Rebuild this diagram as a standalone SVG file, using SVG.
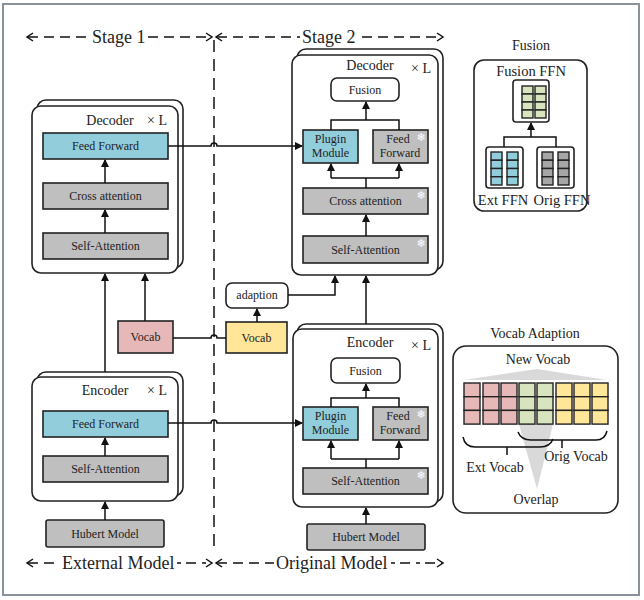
<svg xmlns="http://www.w3.org/2000/svg" width="644" height="600" viewBox="0 0 644 600">
<style>
text{font-family:"Liberation Serif","Times New Roman",serif;fill:#222}
.t12{font-size:12px;text-anchor:middle}
.t14{font-size:14px;text-anchor:middle}
.t18{font-size:18px}
.frame{fill:none;stroke:#222;stroke-width:1.5}
.card{fill:#fff;stroke:#222;stroke-width:1.6}
.blue{fill:#92cddc;stroke:#222;stroke-width:1.6}
.gray{fill:#bfbfbf;stroke:#222;stroke-width:1.6}
.pink{fill:#e6b8b7;stroke:#222;stroke-width:1.6}
.yel{fill:#ffe699;stroke:#222;stroke-width:1.6}
.grn{fill:#d7e4bd;stroke:#222;stroke-width:1.4}
.cb{fill:#92cddc;stroke:#222;stroke-width:1.4}
.cg{fill:#a6a6a6;stroke:#222;stroke-width:1.4}
.cp{fill:#e6b8b7;stroke:#222;stroke-width:1.4}
.cy{fill:#ffe699;stroke:#222;stroke-width:1.4}
.ln{fill:none;stroke:#111;stroke-width:1.5}
.ar{fill:none;stroke:#111;stroke-width:1.5;marker-end:url(#ah)}
.dash{fill:none;stroke:#111;stroke-width:1.5;stroke-dasharray:10 6}
.chev{fill:none;stroke:#111;stroke-width:1.5}
.snow{font-family:"DejaVu Sans",sans-serif;font-size:11px;fill:#fff;text-anchor:middle}
</style>
<defs>
<marker id="ah" markerWidth="8" markerHeight="8" refX="7" refY="4" orient="auto" markerUnits="userSpaceOnUse">
<path d="M0,0 L8,4 L0,8 Z" fill="#111"/>
</marker>
</defs>
<rect x="0" y="0" width="644" height="600" fill="#fff"/>
<rect x="3" y="4" width="636" height="591" fill="none" stroke="#8a919b" stroke-width="2"/>

<!-- header / footer -->
<g id="stage-header">
<path class="chev" d="M33,33 L27,37 L33,41"/>
<line class="dash" x1="28" y1="37" x2="90" y2="37"/>
<text class="t18" x="92" y="43">Stage 1</text>
<line class="dash" x1="148" y1="37" x2="211" y2="37"/>
<path class="chev" d="M206,33 L212,37 L206,41"/>
<path class="chev" d="M222,33 L216,37 L222,41"/>
<line class="dash" x1="217" y1="37" x2="300" y2="37"/>
<text class="t18" x="302" y="43">Stage 2</text>
<line class="dash" x1="362" y1="37" x2="442" y2="37"/>
<path class="chev" d="M437,33 L443,37 L437,41"/>
</g>
<g id="model-footer">
<path class="chev" d="M33,559 L27,563 L33,567"/>
<line class="dash" x1="28" y1="563" x2="58" y2="563"/>
<text class="t18" x="62" y="569">External Model</text>
<line class="dash" x1="177" y1="563" x2="211" y2="563" style="stroke-dasharray:4 5 10 6"/>
<path class="chev" d="M206,559 L212,563 L206,567"/>
<path class="chev" d="M222,559 L216,563 L222,567"/>
<line class="dash" x1="217" y1="563" x2="274" y2="563"/>
<text class="t18" x="276" y="569">Original Model</text>
<line class="dash" x1="391" y1="563" x2="442" y2="563" style="stroke-dasharray:4 5 10 6"/>
<path class="chev" d="M437,559 L443,563 L437,567"/>
</g>
<line x1="214" y1="40" x2="214" y2="553" stroke="#111" stroke-width="1.5" stroke-dasharray="12 7"/>

<!-- Stage 1 decoder -->
<g id="s1-decoder">
<rect class="card" x="37" y="100" width="146" height="168" rx="9"/>
<rect class="card" x="32" y="106" width="146" height="167" rx="9"/>
<text class="t14" x="110" y="125">Decoder</text>
<text class="t14" x="157" y="125">× L</text>
<g id="s1-dec-ff"><rect class="blue" x="43" y="133" width="125" height="26"/><text class="t12" x="105.5" y="150">Feed Forward</text></g>
<g id="s1-dec-ca"><rect class="gray" x="43" y="183" width="125" height="26"/><text class="t12" x="105.5" y="200">Cross attention</text></g>
<g id="s1-dec-sa"><rect class="gray" x="43" y="233" width="125" height="26"/><text class="t12" x="105.5" y="250">Self-Attention</text></g>
</g>

<!-- Stage 1 encoder -->
<g id="s1-encoder">
<rect class="card" x="37" y="372" width="146" height="124" rx="9"/>
<rect class="card" x="32" y="377" width="146" height="124" rx="9"/>
<text class="t14" x="105" y="395">Encoder</text>
<text class="t14" x="157" y="395">× L</text>
<g id="s1-enc-ff"><rect class="blue" x="43" y="411" width="125" height="26"/><text class="t12" x="105.5" y="428">Feed Forward</text></g>
<g id="s1-enc-sa"><rect class="gray" x="43" y="456" width="125" height="26"/><text class="t12" x="105.5" y="473">Self-Attention</text></g>
</g>
<g id="s1-hubert"><rect class="gray" x="46" y="520" width="118" height="27" rx="2"/><text class="t12" x="105" y="538">Hubert Model</text></g>

<g id="vocab-ext"><rect class="pink" x="118" y="321" width="55" height="32"/><text class="t12" x="145.5" y="341">Vocab</text></g>
<g id="vocab-orig"><rect class="yel" x="226" y="322" width="61" height="31"/><text class="t12" x="256.5" y="342">Vocab</text></g>
<g id="adaption"><rect class="card" x="226" y="283" width="62" height="25" rx="6"/><text class="t12" x="257" y="299">adaption</text></g>

<!-- Stage 2 decoder -->
<g id="s2-decoder">
<rect class="card" x="297" y="49" width="146" height="221" rx="9"/>
<rect class="card" x="292" y="55" width="146" height="220" rx="9"/>
<text class="t14" x="370" y="70">Decoder</text>
<text class="t14" x="421" y="73">× L</text>
<g id="s2-dec-fusion"><rect class="card" x="331" y="78" width="68" height="23" rx="6"/><text class="t12" x="365" y="94">Fusion</text></g>
<g id="s2-dec-plugin"><rect class="blue" x="303" y="130" width="55" height="33"/><text class="t12" x="330.5" y="143">Plugin</text><text class="t12" x="330.5" y="157">Module</text></g>
<g id="s2-dec-ff"><rect class="gray" x="373" y="130" width="55" height="33"/><text class="t12" x="398" y="143">Feed</text><text class="t12" x="400" y="157">Forward</text><text class="snow" x="421" y="141">❄</text></g>
<g id="s2-dec-ca"><rect class="gray" x="303" y="188" width="125" height="26"/><text class="t12" x="365.5" y="205">Cross attention</text><text class="snow" x="421" y="199">❄</text></g>
<g id="s2-dec-sa"><rect class="gray" x="303" y="236" width="125" height="27"/><text class="t12" x="365.5" y="254">Self-Attention</text><text class="snow" x="421" y="247">❄</text></g>
</g>

<!-- Stage 2 encoder -->
<g id="s2-encoder">
<rect class="card" x="297" y="324" width="146" height="178" rx="9"/>
<rect class="card" x="293" y="329" width="145" height="178" rx="9"/>
<text class="t14" x="370" y="347">Encoder</text>
<text class="t14" x="421" y="350">× L</text>
<g id="s2-enc-fusion"><rect class="card" x="331" y="358" width="69" height="25" rx="6"/><text class="t12" x="365.5" y="375">Fusion</text></g>
<g id="s2-enc-plugin"><rect class="blue" x="303" y="407" width="55" height="33"/><text class="t12" x="330.5" y="420">Plugin</text><text class="t12" x="330.5" y="434">Module</text></g>
<g id="s2-enc-ff"><rect class="gray" x="373" y="407" width="55" height="33"/><text class="t12" x="398" y="420">Feed</text><text class="t12" x="400" y="434">Forward</text><text class="snow" x="421" y="418">❄</text></g>
<g id="s2-enc-sa"><rect class="gray" x="303" y="468" width="125" height="26"/><text class="t12" x="365.5" y="485">Self-Attention</text><text class="snow" x="421" y="479">❄</text></g>
</g>
<g id="s2-hubert"><rect class="gray" x="307" y="524" width="118" height="26" rx="2"/><text class="t12" x="366" y="541">Hubert Model</text></g>

<!-- Fusion panel -->
<g id="fusion-panel">
<text class="t14" x="531" y="50">Fusion</text>
<rect class="card" x="474" y="60" width="113" height="151" rx="10"/>
<text x="531" y="76" style="font-size:14.5px;text-anchor:middle">Fusion FFN</text>
<rect class="card" x="513" y="80" width="36" height="42" rx="3"/>
<g class="grn-cells">
<rect class="grn" x="522" y="86" width="11" height="8"/><rect class="grn" x="522" y="94" width="11" height="8"/><rect class="grn" x="522" y="102" width="11" height="8"/><rect class="grn" x="522" y="110" width="11" height="8"/>
<rect class="grn" x="535" y="86" width="11" height="8"/><rect class="grn" x="535" y="94" width="11" height="8"/><rect class="grn" x="535" y="102" width="11" height="8"/><rect class="grn" x="535" y="110" width="11" height="8"/>
</g>
<rect class="card" x="486" y="147" width="37" height="41" rx="3"/>
<rect class="cb" x="491" y="152" width="11" height="8.25"/><rect class="cb" x="491" y="160.25" width="11" height="8.25"/><rect class="cb" x="491" y="168.5" width="11" height="8.25"/><rect class="cb" x="491" y="176.75" width="11" height="8.25"/>
<rect class="cb" x="507" y="152" width="11" height="8.25"/><rect class="cb" x="507" y="160.25" width="11" height="8.25"/><rect class="cb" x="507" y="168.5" width="11" height="8.25"/><rect class="cb" x="507" y="176.75" width="11" height="8.25"/>
<rect class="card" x="537" y="147" width="37" height="41" rx="3"/>
<rect class="cg" x="542" y="152" width="11" height="8.25"/><rect class="cg" x="542" y="160.25" width="11" height="8.25"/><rect class="cg" x="542" y="168.5" width="11" height="8.25"/><rect class="cg" x="542" y="176.75" width="11" height="8.25"/>
<rect class="cg" x="558" y="152" width="11" height="8.25"/><rect class="cg" x="558" y="160.25" width="11" height="8.25"/><rect class="cg" x="558" y="168.5" width="11" height="8.25"/><rect class="cg" x="558" y="176.75" width="11" height="8.25"/>
<path class="ln" d="M504,147 V137 H556 V147"/>
<path class="ar" d="M531,137 V123"/>
<text x="503" y="205" style="font-size:14.5px;text-anchor:middle">Ext FFN</text>
<text x="562" y="205" style="font-size:14.5px;text-anchor:middle">Orig FFN</text>
</g>

<!-- Vocab Adaption panel -->
<g id="vocab-panel">
<text class="t14" x="535" y="338">Vocab Adaption</text>
<rect class="card" x="453" y="346" width="165" height="167" rx="13"/>
<text class="t14" x="538" y="364">New Vocab</text>
<polygon points="537,369 607,380 464,380" fill="#d9d9d9"/>
<polygon points="519,424 553,424 537,489" fill="#d9d9d9"/>
<g>
<rect class="cp" x="464" y="383" width="16" height="13.7"/><rect class="cp" x="464" y="396.7" width="16" height="13.7"/><rect class="cp" x="464" y="410.4" width="16" height="13.7"/>
<rect class="cp" x="483" y="383" width="16" height="13.7"/><rect class="cp" x="483" y="396.7" width="16" height="13.7"/><rect class="cp" x="483" y="410.4" width="16" height="13.7"/>
<rect class="cp" x="501" y="383" width="16" height="13.7"/><rect class="cp" x="501" y="396.7" width="16" height="13.7"/><rect class="cp" x="501" y="410.4" width="16" height="13.7"/>
<rect class="grn" x="519" y="383" width="16" height="13.7"/><rect class="grn" x="519" y="396.7" width="16" height="13.7"/><rect class="grn" x="519" y="410.4" width="16" height="13.7"/>
<rect class="grn" x="537" y="383" width="16" height="13.7"/><rect class="grn" x="537" y="396.7" width="16" height="13.7"/><rect class="grn" x="537" y="410.4" width="16" height="13.7"/>
<rect class="cy" x="556" y="383" width="16" height="13.7"/><rect class="cy" x="556" y="396.7" width="16" height="13.7"/><rect class="cy" x="556" y="410.4" width="16" height="13.7"/>
<rect class="cy" x="574" y="383" width="16" height="13.7"/><rect class="cy" x="574" y="396.7" width="16" height="13.7"/><rect class="cy" x="574" y="410.4" width="16" height="13.7"/>
<rect class="cy" x="592" y="383" width="16" height="13.7"/><rect class="cy" x="592" y="396.7" width="16" height="13.7"/><rect class="cy" x="592" y="410.4" width="16" height="13.7"/>
</g>
<path class="ln" d="M463,437 Q465,447 475,447 H540 Q550,447 553,439 M507,447 V455"/>
<path class="ln" d="M518,432 Q521,440 531,440 H596 Q605,440 607,431 M562,440 V448"/>
<text class="t14" x="495" y="472">Ext Vocab</text>
<text class="t14" x="576" y="461">Orig Vocab</text>
<text class="t14" x="536" y="504">Overlap</text>
</g>

<!-- connectors -->
<g id="connectors">
<path class="ar" d="M105,233 V210"/>
<path class="ar" d="M105,183 V160"/>
<path class="ar" d="M105,456 V438"/>
<path class="ar" d="M105,520 V502"/>
<path class="ar" d="M105,372 V274"/>
<path class="ar" d="M145,321 V274"/>
<path class="ln" d="M173,338 H211 a3,3 0 0 1 6,0 H226"/>
<path class="ar" d="M168,146 H211 a3,3 0 0 1 6,0 H302"/>
<path class="ar" d="M168,423 H211 a3,3 0 0 1 6,0 H302"/>
<path class="ar" d="M257,322 V309"/>
<path class="ar" d="M288,295 H335 V276"/>
<path class="ar" d="M366,324 V276"/>
<path class="ar" d="M366,524 V508"/>
<path class="ar" d="M366,236 V215"/>
<path class="ln" d="M366,188 V178 M331,178 H399"/>
<path class="ar" d="M331,178 V164"/>
<path class="ar" d="M399,178 V164"/>
<path class="ln" d="M331,130 V120 H399 V130"/>
<path class="ar" d="M366,120 V102"/>
<path class="ln" d="M366,468 V459 M331,459 H399"/>
<path class="ar" d="M331,459 V441"/>
<path class="ar" d="M399,459 V441"/>
<path class="ln" d="M331,407 V398 H399 V407"/>
<path class="ar" d="M366,398 V384"/>
</g>
</svg>
